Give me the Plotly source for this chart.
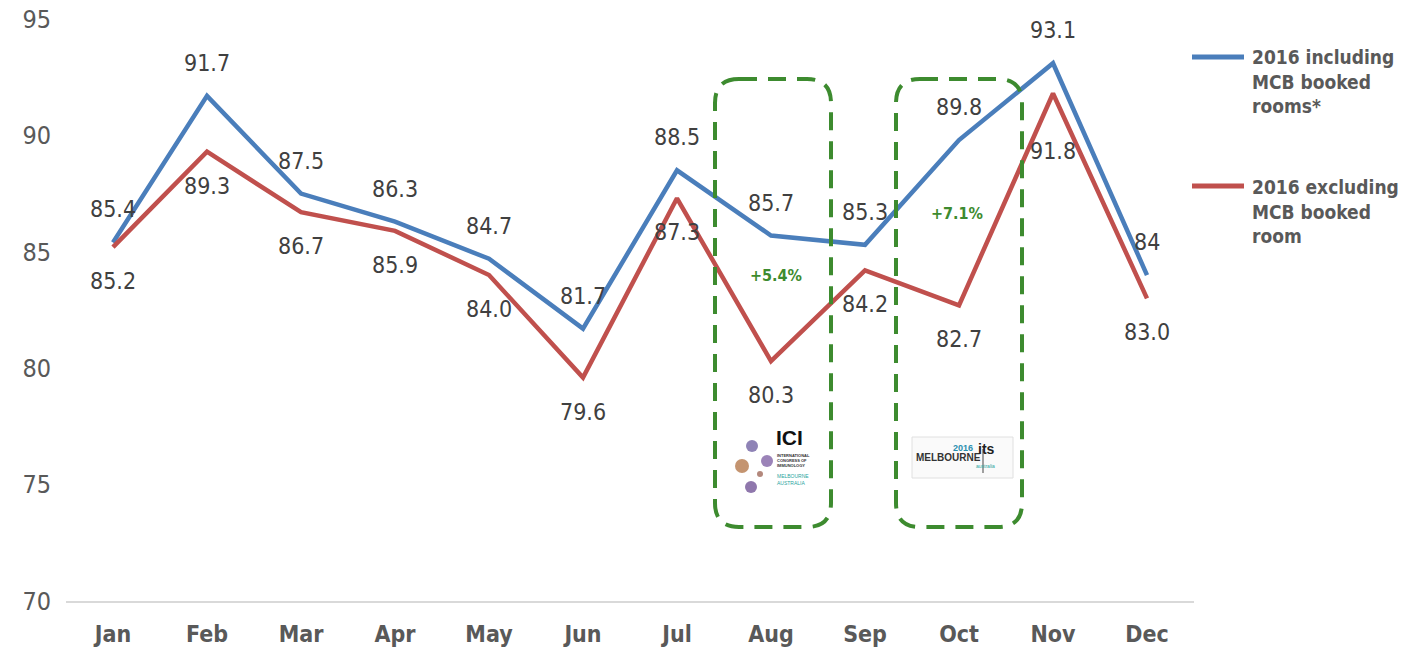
import plotly.graph_objects as go

months = ["Jan", "Feb", "Mar", "Apr", "May", "Jun", "Jul", "Aug", "Sep", "Oct", "Nov", "Dec"]
incl = [85.4, 91.7, 87.5, 86.3, 84.7, 81.7, 88.5, 85.7, 85.3, 89.8, 93.1, 84.0]
excl = [85.2, 89.3, 86.7, 85.9, 84.0, 79.6, 87.3, 80.3, 84.2, 82.7, 91.8, 83.0]
incl_labels = ["85.4", "91.7", "87.5", "86.3", "84.7", "81.7", "88.5", "85.7", "85.3", "89.8", "93.1", "84"]
excl_labels = ["85.2", "89.3", "86.7", "85.9", "84.0", "79.6", "87.3", "80.3", "84.2", "82.7", "91.8", "83.0"]
yticks = [70, 75, 80, 85, 90, 95]
legend_names = ["2016 including<br>MCB booked<br>rooms*", "2016 excluding<br>MCB booked<br>room"]

BLUE = "#4A7EBB"
RED = "#C0504D"
GREEN = "#3D8B2F"
FONT = "'DejaVu Sans Condensed', 'Liberation Sans', 'DejaVu Sans', sans-serif"

W, H = 1408, 650
ML, MR, MT, MB = 66, 214, 19, 49
PW, PH = W - ML - MR, H - MT - MB


def px(x):
    return (x - ML) / PW


def py(y):
    return (H - MB - y) / PH


fig = go.Figure()
fig.add_trace(go.Scatter(x=months, y=incl, mode="lines", name="incl",
                         line=dict(color=BLUE, width=4.5), showlegend=False))
fig.add_trace(go.Scatter(x=months, y=excl, mode="lines", name="excl",
                         line=dict(color=RED, width=4.5), showlegend=False))

annotations = []
for m, v, t in zip(months, incl, incl_labels):
    annotations.append(dict(x=m, y=v, text=t, showarrow=False, yshift=33,
                            font=dict(family=FONT, size=23, color="#404040")))
for m, v, t in zip(months, excl, excl_labels):
    shift = -57 if m == "Nov" else -34
    annotations.append(dict(x=m, y=v, text=t, showarrow=False, yshift=shift,
                            font=dict(family=FONT, size=23, color="#404040")))

shapes = []


def rounded_box(x0, y0, x1, y1, r):
    X0, X1 = px(x0), px(x1)
    Y0, Y1 = py(y0), py(y1)
    rx, ry = r / PW, r / PH
    path = (f"M {X0+rx},{Y0} L {X1-rx},{Y0} Q {X1},{Y0} {X1},{Y0-ry} "
            f"L {X1},{Y1+ry} Q {X1},{Y1} {X1-rx},{Y1} "
            f"L {X0+rx},{Y1} Q {X0},{Y1} {X0},{Y1+ry} "
            f"L {X0},{Y0-ry} Q {X0},{Y0} {X0+rx},{Y0} Z")
    return dict(type="path", xref="paper", yref="paper", path=path,
                line=dict(color=GREEN, width=4, dash="18px,11px"))


shapes.append(rounded_box(715, 79, 831, 527, 24))
shapes.append(rounded_box(896, 79, 1022, 527, 24))

# highlight percentages
annotations.append(dict(xref="paper", yref="paper", x=px(776), y=py(275), text="<b>+5.4%</b>",
                        xanchor="center", yanchor="middle",
                        showarrow=False, font=dict(family=FONT, size=16, color=GREEN)))
annotations.append(dict(xref="paper", yref="paper", x=px(957), y=py(213), text="<b>+7.1%</b>",
                        xanchor="center", yanchor="middle",
                        showarrow=False, font=dict(family=FONT, size=16, color=GREEN)))

# legend
legend_y = [82, 211]
for name, col, ly in zip(legend_names, [BLUE, RED], [57, 186]):
    shapes.append(dict(type="line", xref="paper", yref="paper", x0=px(1192), x1=px(1244),
                       y0=py(ly), y1=py(ly), line=dict(color=col, width=5)))
for name, cy in zip(legend_names, legend_y):
    annotations.append(dict(xref="paper", yref="paper", x=px(1250), y=py(cy), text="<b>" + name + "</b>",
                            xanchor="left", yanchor="middle", align="left", showarrow=False,
                            font=dict(family=FONT, size=19, color="#595959")))

# ICI logo approximation
for cx, cy, r, c in [(752, 446, 6, "#6A5A9E"), (742, 466, 7, "#B07040"), (767, 461, 6, "#7A5AA0"),
                     (760, 474, 3, "#9A6050"), (751, 487, 6, "#6A4A90")]:
    shapes.append(dict(type="circle", xref="paper", yref="paper", x0=px(cx - r), x1=px(cx + r),
                       y0=py(cy + r), y1=py(cy - r), fillcolor=c, line=dict(width=0), opacity=0.75))
annotations.append(dict(xref="paper", yref="paper", x=px(774), y=py(451), text="<b>ICI</b>",
                        xanchor="left", showarrow=False, font=dict(family="Liberation Sans", size=21, color="#111111")))
annotations.append(dict(xref="paper", yref="paper", x=px(775), y=py(470),
                        text="<b>INTERNATIONAL<br>CONGRESS OF<br>IMMUNOLOGY</b>", xanchor="left", align="left",
                        showarrow=False, font=dict(family="Liberation Sans", size=4, color="#333333")))
annotations.append(dict(xref="paper", yref="paper", x=px(775), y=py(488),
                        text="MELBOURNE<br>AUSTRALIA", xanchor="left", align="left",
                        showarrow=False, font=dict(family="Liberation Sans", size=5, color="#2AA5A0")))

# ITS Melbourne logo approximation
shapes.append(dict(type="rect", xref="paper", yref="paper", x0=px(912), x1=px(1013), y0=py(478), y1=py(437),
                   line=dict(color="#E0E0E0", width=1), fillcolor="rgba(250,250,250,1)"))
annotations.append(dict(xref="paper", yref="paper", x=px(975), y=py(455), text="<b>2016</b>",
                        xanchor="right", showarrow=False, font=dict(family="Liberation Sans", size=9, color="#2A8FB0")))
annotations.append(dict(xref="paper", yref="paper", x=px(914), y=py(465), text="<b>MELBOURNE</b>",
                        xanchor="left", showarrow=False, font=dict(family="Liberation Sans", size=10, color="#333333")))
annotations.append(dict(xref="paper", yref="paper", x=px(997), y=py(459), text="<b>its</b>",
                        showarrow=False, font=dict(family="Liberation Sans", size=14, color="#222222")))
annotations.append(dict(xref="paper", yref="paper", x=px(997), y=py(471), text="australia",
                        showarrow=False, font=dict(family="Liberation Sans", size=5, color="#2AA5A0")))
shapes.append(dict(type="line", xref="paper", yref="paper", x0=px(983), x1=px(983), y0=py(449), y1=py(473),
                   line=dict(color="#444444", width=1)))

fig.update_layout(
    width=W, height=H, autosize=False,
    margin=dict(l=ML, r=MR, t=MT, b=MB, pad=0, autoexpand=False),
    paper_bgcolor="white", plot_bgcolor="white",
    showlegend=False,
    annotations=annotations, shapes=shapes,
    xaxis=dict(type="category", range=[-0.5, 11.5], showline=True, linecolor="#D9D9D9", linewidth=1.5,
               showgrid=False, zeroline=False, ticks="", ticklabelstandoff=12, automargin=False,
               tickfont=dict(family=FONT, size=23, color="#595959", weight="bold")),
    yaxis=dict(range=[70, 95], tickvals=yticks, showgrid=False, zeroline=False, showline=False,
               ticks="", ticklabelstandoff=14, automargin=False,
               tickfont=dict(family=FONT, size=25, color="#595959")),
)

fig.write_html("out.html")
